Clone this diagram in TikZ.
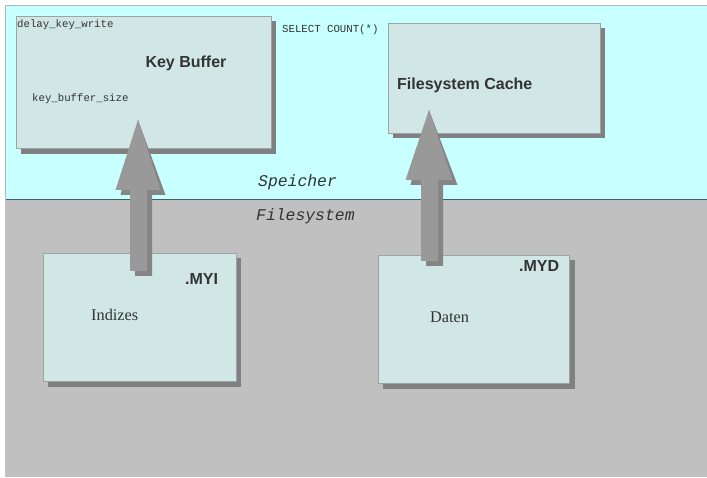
\documentclass[tikz,border=0pt]{standalone}
\usepackage{fontspec}
\setmainfont{Liberation Serif}
\setsansfont{Liberation Sans}
\setmonofont{Liberation Mono}
\definecolor{cyanbg}{HTML}{C8FFFF}
\definecolor{graybg}{HTML}{C0C0C0}
\definecolor{boxfill}{HTML}{D0E7E5}
\definecolor{boxline}{HTML}{9AA4A4}
\definecolor{shadowc}{HTML}{808080}
\definecolor{arrowc}{HTML}{999999}
\definecolor{arrowsh}{HTML}{858585}
\definecolor{txt}{HTML}{333333}
\definecolor{divline}{HTML}{3F5F5F}
\tikzset{
  memstore/.style={draw=boxline, fill=boxfill, line width=0.8pt, inner sep=0pt, anchor=north west},
  boxshadow/.style={fill=shadowc, draw=none},
  titletext/.style={font=\sffamily\bfseries\fontsize{16}{19}\selectfont, text=txt, inner sep=0pt},
  monotext/.style={font=\ttfamily\fontsize{10.7}{12}\selectfont, text=txt, inner sep=0pt, anchor=west},
  areatext/.style={font=\ttfamily\itshape\fontsize{16.4}{19}\selectfont, text=txt, inner sep=0pt, anchor=west},
  serifext/.style={font=\rmfamily\fontsize{16.3}{19}\selectfont, text=txt, inner sep=0pt, anchor=west},
  fatarrow/.style={fill=arrowc, draw=none},
  fatshadow/.style={fill=arrowsh, draw=none}
}
\begin{document}
\begin{tikzpicture}[x=1pt,y=-1pt]
\useasboundingbox (0,0) rectangle (707,478);
\fill[white] (0,0) rectangle (707,478);
% regions
\fill[cyanbg] (5,5) rectangle (707,199);
\draw[boxline!80!white, line width=0.8pt] (707,5) -- (5,5) -- (5,199);
\fill[graybg] (5.5,199) rectangle (707,477);
\draw[divline, line width=0.8pt] (5,199) -- (707,199);
\draw[boxline!60!white, line width=0.6pt] (5.5,199) -- (5.5,477);
\node[areatext] (speicher) at (258,182) {Speicher};
\node[areatext] (filesys) at (256,216) {Filesystem};
% Key Buffer
\fill[boxshadow] (21,21) rectangle (276,154);
\node[memstore, minimum width=255pt, minimum height=132pt] (kb) at (16,16) {};
\node[monotext] (dkw) at (17,24.5) {delay\_key\_write};
\node[titletext] (kbt) at (186,63) {Key Buffer};
\node[monotext] (kbs) at (32,99) {key\_buffer\_size};
\node[monotext] (sel) at (282,30) {SELECT COUNT(*)};
% Filesystem Cache
\fill[boxshadow] (393,28) rectangle (605,138);
\node[memstore, minimum width=212pt, minimum height=110pt] (fc) at (388,23) {};
\node[titletext, anchor=west] (fct) at (397,85) {Filesystem Cache};
% MYI
\fill[boxshadow] (48,258) rectangle (241,387);
\node[memstore, minimum width=193pt, minimum height=128pt] (myi) at (43,253) {};
\node[titletext, anchor=west] (myit) at (185,279) {.MYI};
\node[serifext] (ind) at (91,315) {Indizes};
% MYD
\fill[boxshadow] (383,260) rectangle (575,389);
\node[memstore, minimum width=191pt, minimum height=128pt] (myd) at (378,255) {};
\node[titletext, anchor=west] (mydt) at (519,266) {.MYD};
\node[serifext] (dat) at (430,317) {Daten};
% small mark
\node[text=gray!70, font=\rmfamily\fontsize{6}{6}\selectfont, inner sep=0pt] (mark) at (60,428) {-};
% arrows
\coordinate (a1tip) at (138,120);
\coordinate (a1tail) at (138.5,271);
\coordinate (a2tip) at (429,110);
\coordinate (a2tail) at (429.5,261);
\fill[fatshadow, shift={(5,5)}] (a1tip) -- (160.5,190) -- (147,190) -- (147,271) -- (130,271) -- (130,190) -- (115.5,190) -- cycle;
\fill[fatarrow] (a1tip) -- (160.5,190) -- (147,190) -- (147,271) -- (130,271) -- (130,190) -- (115.5,190) -- cycle;
\fill[fatshadow, shift={(5,5)}] (a2tip) -- (452.5,180) -- (438,180) -- (438,261) -- (421,261) -- (421,180) -- (405.5,180) -- cycle;
\fill[fatarrow] (a2tip) -- (452.5,180) -- (438,180) -- (438,261) -- (421,261) -- (421,180) -- (405.5,180) -- cycle;
\end{tikzpicture}
\end{document}
